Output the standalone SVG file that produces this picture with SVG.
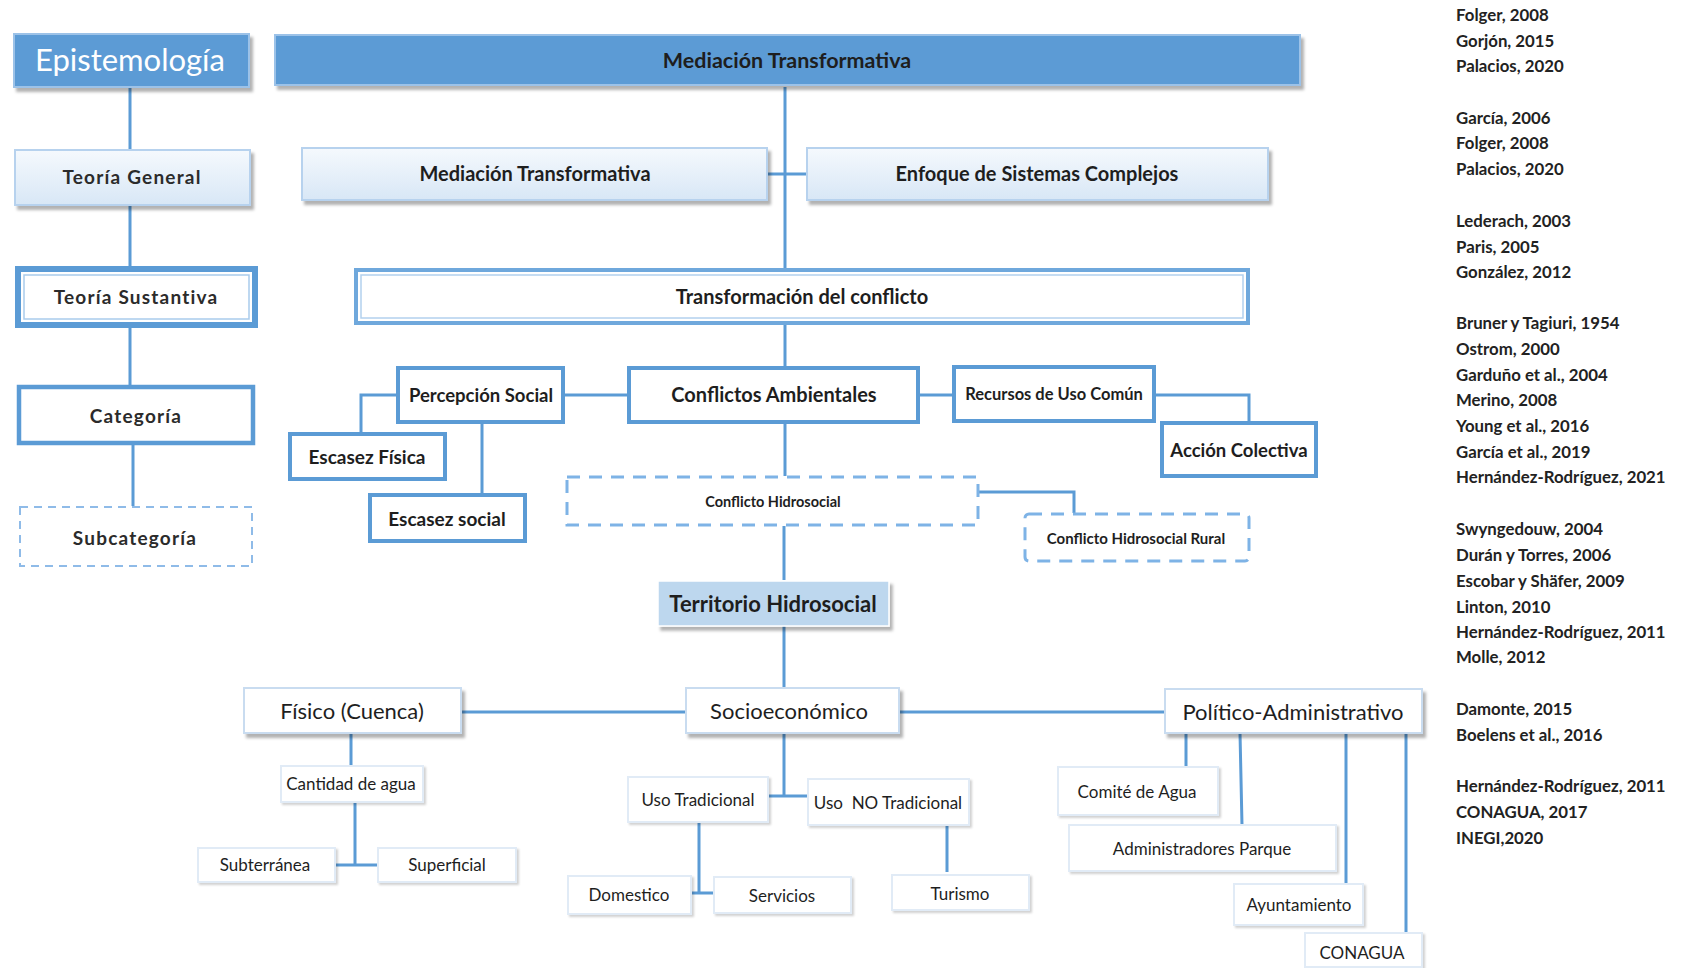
<svg xmlns="http://www.w3.org/2000/svg" width="1693" height="968" viewBox="0 0 1693 968">
<defs>
<linearGradient id="gl" x1="0" y1="0" x2="0" y2="1">
<stop offset="0" stop-color="#f5f9fd"/>
<stop offset="1" stop-color="#d8e7f6"/>
</linearGradient>
<filter id="sh" x="-5%" y="-20%" width="115%" height="160%">
<feDropShadow dx="3" dy="4" stdDeviation="1.5" flood-color="#000" flood-opacity="0.3"/>
</filter>
<filter id="shs" x="-5%" y="-20%" width="115%" height="160%">
<feDropShadow dx="2" dy="2" stdDeviation="1.2" flood-color="#000" flood-opacity="0.18"/>
</filter>
</defs>
<style>
text{font-family:Lato,"Liberation Sans",sans-serif;fill:#1e1e1e;text-anchor:middle}
.b{font-weight:bold}
.lc{font-weight:bold;fill:#2b2b2b;letter-spacing:1.2px;font-size:19px}
.dark{fill:#5B9BD5;stroke:#9cc2e8;stroke-width:2}
.grad{fill:url(#gl);stroke:#b7d2ee;stroke-width:2}
.thick{fill:#fff;stroke:#5B9BD5;stroke-width:4}
.dash{fill:#fff;stroke:#7eb3e6;stroke-width:3;stroke-dasharray:13 9}
.mid{fill:#fff;stroke:#c9dcf0;stroke-width:2}
.lite{fill:#fff;stroke:#e1ebf6;stroke-width:2}
.cn{fill:none;stroke:#5B9BD5;stroke-width:3}
.ref{font-weight:bold;font-size:16.8px;text-anchor:start;fill:#222}
</style>
<rect width="1693" height="968" fill="#fff"/>

<g id="connectors">
<path class="cn" d="M130 87V150M130 205V266M130 328V385M133 445V506"/>
<path class="cn" d="M785 87V268M767 174H807M785 324V367"/>
<path class="cn" d="M563 395H629M397 395H361V433M482 423V494"/>
<path class="cn" d="M918 395H954M1154 395H1249V423"/>
<path class="cn" d="M785 423V476M978 492H1074V513M784 526V580M784 626V687"/>
<path class="cn" d="M461 712H686M899 712H1165"/>
<path class="cn" d="M351 733V765M355 802V865M335 865H378"/>
<path class="cn" d="M784 733V796M768 796H808M699 823V893M691 893H714M947 825V872"/>
<path class="cn" d="M1186 733V767M1240 733L1242 825M1346 733V883M1406 733V932"/>
</g>

<g id="epistemologia">
<rect class="dark" x="14" y="34" width="235" height="53" filter="url(#sh)"/>
<text x="130" y="71" style="fill:#fff;font-size:31px">Epistemología</text>
</g>
<g id="teoria-general">
<rect class="grad" x="15" y="150" width="235" height="55" filter="url(#sh)"/>
<text class="lc" x="132" y="184">Teoría General</text>
</g>
<g id="teoria-sustantiva">
<rect x="18" y="269" width="237" height="56" fill="#fff" stroke="#5B9BD5" stroke-width="6"/>
<rect x="24" y="275" width="225" height="44" fill="none" stroke="#a9cbec" stroke-width="1.5"/>
<text class="lc" x="136" y="304">Teoría Sustantiva</text>
</g>
<g id="categoria">
<rect class="thick" x="19" y="387" width="234" height="56" style="stroke-width:4.5"/>
<text class="lc" x="136" y="423">Categoría</text>
</g>
<g id="subcategoria">
<rect x="20" y="507" width="232" height="59" fill="#fff" stroke="#8fbbe8" stroke-width="2" stroke-dasharray="8 6"/>
<text class="lc" x="135" y="545">Subcategoría</text>
</g>

<g id="mediacion-top">
<rect class="dark" x="275" y="35" width="1025" height="50" filter="url(#sh)"/>
<text class="b" x="787" y="68" style="font-size:21.5px">Mediación Transformativa</text>
</g>
<g id="mediacion-2">
<rect class="grad" x="302" y="148" width="465" height="52" filter="url(#sh)"/>
<text class="b" x="535" y="181" style="font-size:20px">Mediación Transformativa</text>
</g>
<g id="enfoque">
<rect class="grad" x="807" y="148" width="461" height="52" filter="url(#sh)"/>
<text class="b" x="1037" y="181" style="font-size:20px">Enfoque de Sistemas Complejos</text>
</g>
<g id="transformacion">
<rect x="356" y="270" width="892" height="53" fill="#fff" stroke="#6fa8dc" stroke-width="4"/>
<rect x="361" y="275" width="882" height="43" fill="none" stroke="#b3d1ee" stroke-width="1.5"/>
<text class="b" x="802" y="304" style="font-size:20px">Transformación del conflicto</text>
</g>

<g id="percepcion">
<rect class="thick" x="398" y="368" width="165" height="54"/>
<text class="b" x="481" y="402" style="font-size:18.5px">Percepción Social</text>
</g>
<g id="conflictos-ambientales">
<rect class="thick" x="629" y="368" width="289" height="54"/>
<text class="b" x="774" y="402" style="font-size:20px">Conflictos Ambientales</text>
</g>
<g id="recursos">
<rect class="thick" x="954" y="367" width="200" height="54"/>
<text class="b" x="1054" y="400" style="font-size:16.5px">Recursos de Uso Común</text>
</g>
<g id="accion">
<rect class="thick" x="1162" y="423" width="154" height="53"/>
<text class="b" x="1239" y="457" style="font-size:18.5px">Acción Colectiva</text>
</g>
<g id="escasez-fisica">
<rect class="thick" x="290" y="434" width="155" height="45"/>
<text class="b" x="367" y="464" style="font-size:19px">Escasez Física</text>
</g>
<g id="escasez-social">
<rect class="thick" x="370" y="495" width="155" height="46"/>
<text class="b" x="447" y="526" style="font-size:19px">Escasez social</text>
</g>
<g id="conflicto-hidrosocial">
<rect class="dash" x="567" y="477" width="411" height="48"/>
<text class="b" x="773" y="507" style="font-size:14.5px">Conflicto Hidrosocial</text>
</g>
<g id="conflicto-rural">
<rect class="dash" x="1025" y="514" width="224" height="47" rx="4"/>
<text class="b" x="1136" y="544" style="font-size:15px">Conflicto Hidrosocial Rural</text>
</g>
<g id="territorio">
<rect x="658" y="581" width="231" height="45" fill="#BDD7EE" stroke="#fff" stroke-width="1.5" filter="url(#sh)"/>
<text class="b" x="773" y="612" style="font-size:22px">Territorio Hidrosocial</text>
</g>

<g id="fisico">
<rect class="mid" x="244" y="688" width="217" height="45" filter="url(#sh)"/>
<text x="352" y="719" style="font-size:22px">Físico (Cuenca)</text>
</g>
<g id="socioeconomico">
<rect class="mid" x="686" y="688" width="213" height="45" filter="url(#sh)"/>
<text x="789" y="719" style="font-size:22px">Socioeconómico</text>
</g>
<g id="politico">
<rect class="mid" x="1165" y="689" width="257" height="44" filter="url(#sh)"/>
<text x="1293" y="720" style="font-size:22px">Político-Administrativo</text>
</g>

<g id="cantidad">
<rect class="lite" x="281" y="766" width="142" height="36" filter="url(#shs)"/>
<text x="351" y="790" style="font-size:17px">Cantidad de agua</text>
</g>
<g id="subterranea">
<rect class="lite" x="198" y="848" width="137" height="34" filter="url(#shs)"/>
<text x="265" y="871" style="font-size:17px">Subterránea</text>
</g>
<g id="superficial">
<rect class="lite" x="378" y="848" width="138" height="34" filter="url(#shs)"/>
<text x="447" y="871" style="font-size:17px">Superficial</text>
</g>
<g id="uso-tradicional">
<rect class="lite" x="628" y="777" width="140" height="45" filter="url(#shs)"/>
<text x="698" y="806" style="font-size:17px">Uso Tradicional</text>
</g>
<g id="uso-no-tradicional">
<rect class="lite" x="808" y="779" width="161" height="46" filter="url(#shs)"/>
<text x="888" y="809" style="font-size:17px" xml:space="preserve">Uso  NO Tradicional</text>
</g>
<g id="domestico">
<rect class="lite" x="568" y="876" width="123" height="38" filter="url(#shs)"/>
<text x="629" y="901" style="font-size:17px">Domestico</text>
</g>
<g id="servicios">
<rect class="lite" x="714" y="877" width="137" height="36" filter="url(#shs)"/>
<text x="782" y="902" style="font-size:17px">Servicios</text>
</g>
<g id="turismo">
<rect class="lite" x="892" y="875" width="137" height="35" filter="url(#shs)"/>
<text x="960" y="900" style="font-size:17px">Turismo</text>
</g>
<g id="comite">
<rect class="lite" x="1058" y="767" width="160" height="48" filter="url(#shs)"/>
<text x="1137" y="798" style="font-size:17px">Comité de Agua</text>
</g>
<g id="administradores">
<rect class="lite" x="1069" y="825" width="267" height="46" filter="url(#shs)"/>
<text x="1202" y="855" style="font-size:17px">Administradores Parque</text>
</g>
<g id="ayuntamiento">
<rect class="lite" x="1234" y="884" width="129" height="41" filter="url(#shs)"/>
<text x="1299" y="911" style="font-size:17px">Ayuntamiento</text>
</g>
<g id="conagua">
<rect class="lite" x="1305" y="933" width="117" height="34" filter="url(#shs)"/>
<text x="1362" y="959" style="font-size:17px">CONAGUA</text>
</g>

<g id="referencias">
<text class="ref" x="1456" y="21">Folger, 2008</text>
<text class="ref" x="1456" y="47">Gorjón, 2015</text>
<text class="ref" x="1456" y="72">Palacios, 2020</text>
<text class="ref" x="1456" y="124">García, 2006</text>
<text class="ref" x="1456" y="149">Folger, 2008</text>
<text class="ref" x="1456" y="175">Palacios, 2020</text>
<text class="ref" x="1456" y="227">Lederach, 2003</text>
<text class="ref" x="1456" y="253">Paris, 2005</text>
<text class="ref" x="1456" y="278">González, 2012</text>
<text class="ref" x="1456" y="329">Bruner y Tagiuri, 1954</text>
<text class="ref" x="1456" y="355">Ostrom, 2000</text>
<text class="ref" x="1456" y="381">Garduño et al., 2004</text>
<text class="ref" x="1456" y="406">Merino, 2008</text>
<text class="ref" x="1456" y="432">Young et al., 2016</text>
<text class="ref" x="1456" y="458">García et al., 2019</text>
<text class="ref" x="1456" y="483">Hernández-Rodríguez, 2021</text>
<text class="ref" x="1456" y="535">Swyngedouw, 2004</text>
<text class="ref" x="1456" y="561">Durán y Torres, 2006</text>
<text class="ref" x="1456" y="587">Escobar y Shäfer, 2009</text>
<text class="ref" x="1456" y="613">Linton, 2010</text>
<text class="ref" x="1456" y="638">Hernández-Rodríguez, 2011</text>
<text class="ref" x="1456" y="663">Molle, 2012</text>
<text class="ref" x="1456" y="715">Damonte, 2015</text>
<text class="ref" x="1456" y="741">Boelens et al., 2016</text>
<text class="ref" x="1456" y="792">Hernández-Rodríguez, 2011</text>
<text class="ref" x="1456" y="818">CONAGUA, 2017</text>
<text class="ref" x="1456" y="844">INEGI,2020</text>
</g>
</svg>
